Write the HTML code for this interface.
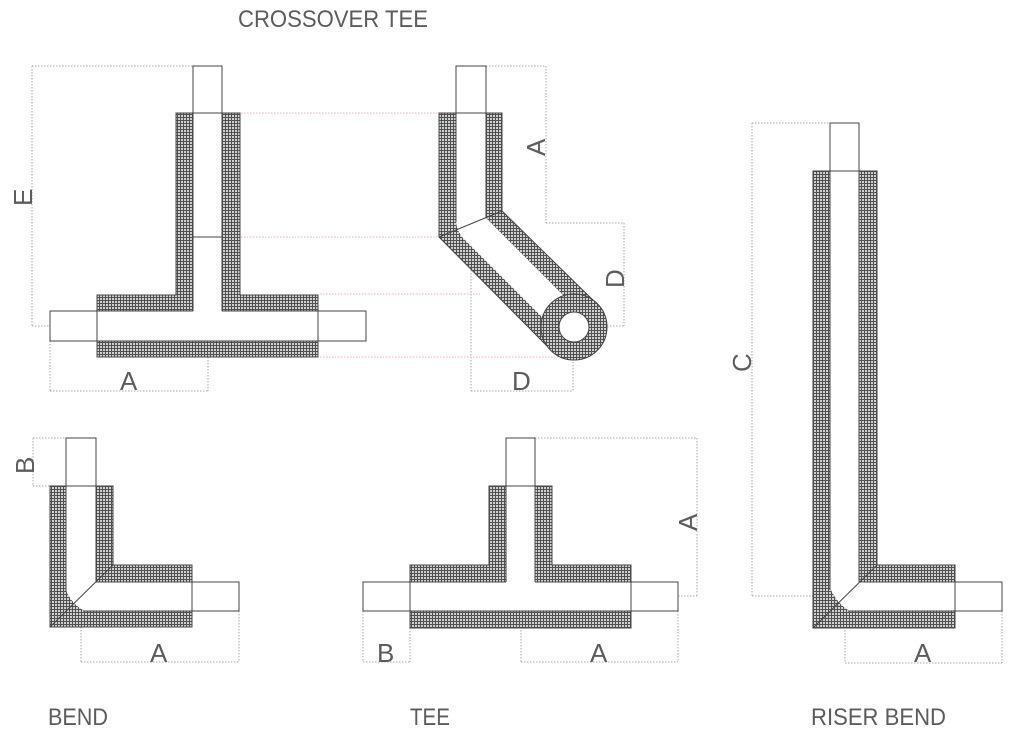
<!DOCTYPE html>
<html><head><meta charset="utf-8"><style>
html,body{margin:0;padding:0;background:#fff;}
svg{display:block;}
text{font-family:"Liberation Sans","DejaVu Sans",sans-serif;fill:#5c5c5c;}
</style></head><body>
<svg width="1024" height="733" viewBox="0 0 1024 733" xmlns="http://www.w3.org/2000/svg">
<defs>
<pattern id="h" width="3" height="3" patternUnits="userSpaceOnUse">
<rect width="3" height="3" fill="#d0d0d0"/>
<rect width="3" height="1" fill="#505050"/>
<rect width="1" height="3" fill="#505050"/>
</pattern>
</defs>
<g fill="none" stroke="#aaa" stroke-width="1" stroke-dasharray="1.5 1.5">
<line x1="32" y1="66" x2="193" y2="66"/><line x1="32" y1="66" x2="32" y2="326"/><line x1="32" y1="326" x2="366" y2="326"/>
<line x1="208" y1="66" x2="208" y2="391"/><line x1="50" y1="341" x2="50" y2="391"/><line x1="50" y1="391" x2="208" y2="391"/>
<line x1="486" y1="66" x2="546" y2="66"/><line x1="546" y1="66" x2="546" y2="223"/><line x1="546" y1="223" x2="624" y2="223"/>
<line x1="624" y1="223" x2="624" y2="326"/><line x1="574" y1="326" x2="624" y2="326"/>
<line x1="471" y1="66" x2="471" y2="391"/><line x1="573" y1="326" x2="573" y2="391"/><line x1="471" y1="391" x2="573" y2="391"/>
<line x1="471" y1="224" x2="574" y2="327"/>
<line x1="752" y1="123" x2="830" y2="123"/><line x1="752" y1="123" x2="752" y2="596"/><line x1="752" y1="596" x2="1002" y2="596"/>
<line x1="845" y1="123" x2="845" y2="663"/><line x1="1002" y1="611" x2="1002" y2="663"/><line x1="845" y1="663" x2="1002" y2="663"/>
<line x1="33" y1="438" x2="66" y2="438"/><line x1="33" y1="438" x2="33" y2="486"/><line x1="33" y1="486" x2="50" y2="486"/>
<line x1="81" y1="438" x2="81" y2="662"/><line x1="239" y1="611" x2="239" y2="662"/><line x1="81" y1="662" x2="239" y2="662"/>
<line x1="66" y1="596" x2="239" y2="596"/>
<line x1="535" y1="438" x2="697" y2="438"/><line x1="697" y1="438" x2="697" y2="596"/><line x1="363" y1="596" x2="697" y2="596"/>
<line x1="521" y1="438" x2="521" y2="662"/><line x1="363" y1="611" x2="363" y2="662"/><line x1="410" y1="628" x2="410" y2="662"/>
<line x1="678" y1="611" x2="678" y2="662"/><line x1="363" y1="662" x2="410" y2="662"/><line x1="521" y1="662" x2="678" y2="662"/>
</g>
<g stroke="#f2b0b0" stroke-width="1" stroke-dasharray="1.5 1.5">
<line x1="241" y1="113" x2="439" y2="113"/><line x1="241" y1="237" x2="439" y2="237"/>
<line x1="320" y1="294" x2="480" y2="294"/><line x1="320" y1="357" x2="560" y2="357"/>
</g>
<g stroke="#444" stroke-width="1">
<path d="M176 113H240V295H318V357H97V295H176Z" fill="url(#h)"/>
<path d="M193 113H222V311H193Z M97 311H318V341H97Z" fill="#fff" stroke="none"/>
<line x1="193" y1="113" x2="193" y2="311"/><line x1="222" y1="113" x2="222" y2="311"/>
<line x1="97" y1="311" x2="193" y2="311"/><line x1="222" y1="311" x2="318" y2="311"/><line x1="97" y1="341" x2="318" y2="341"/>
<line x1="193" y1="237" x2="222" y2="237"/>
<rect x="193" y="66" width="29" height="47" fill="#fff"/>
<rect x="50" y="311" width="47" height="30" fill="#fff"/><rect x="318" y="311" width="48" height="30" fill="#fff"/>
<path d="M439 113H502V211L597 304L551 350L439 237Z" fill="url(#h)"/>
<path d="M456 113H486V218L584 316L563 338L466 241Q456 232 456 220Z" fill="#fff" stroke="none"/>
<line x1="456" y1="113" x2="456" y2="222"/><line x1="486" y1="113" x2="486" y2="218"/>
<line x1="439" y1="237" x2="502" y2="211"/>
<circle cx="574" cy="327" r="33" fill="url(#h)"/>
<circle cx="574" cy="327" r="15" fill="#fff"/>
<rect x="456" y="66" width="30" height="47" fill="#fff"/>
<path d="M813 171H877V565H955V628H813Z" fill="url(#h)"/>
<path d="M830 171H859V582H955V611H850Q838 605 830 588Z" fill="#fff" stroke="none"/>
<line x1="830" y1="171" x2="830" y2="590"/><line x1="859" y1="171" x2="859" y2="582"/>
<line x1="859" y1="582" x2="955" y2="582"/><line x1="848" y1="611" x2="955" y2="611"/>
<line x1="813" y1="628" x2="877" y2="565"/>
<rect x="830" y="123" width="29" height="48" fill="#fff"/>
<rect x="955" y="582" width="47" height="29" fill="#fff"/>
<path d="M50 486H113V565H192V627H50Z" fill="url(#h)"/>
<path d="M66 486H96V582H192V611H85Q72 605 66 590Z" fill="#fff" stroke="none"/>
<line x1="66" y1="486" x2="66" y2="592"/><line x1="96" y1="486" x2="96" y2="582"/>
<line x1="96" y1="582" x2="192" y2="582"/><line x1="83" y1="611" x2="192" y2="611"/>
<line x1="50" y1="627" x2="113" y2="565"/>
<rect x="66" y="438" width="30" height="48" fill="#fff"/>
<rect x="192" y="582" width="47" height="29" fill="#fff"/>
<path d="M489 486H552V565H631V628H410V565H489Z" fill="url(#h)"/>
<path d="M506 486H535V582H506Z M410 582H631V611H410Z" fill="#fff" stroke="none"/>
<line x1="506" y1="486" x2="506" y2="582"/><line x1="535" y1="486" x2="535" y2="582"/>
<line x1="410" y1="582" x2="506" y2="582"/><line x1="535" y1="582" x2="631" y2="582"/><line x1="410" y1="611" x2="631" y2="611"/>
<rect x="506" y="438" width="29" height="48" fill="#fff"/>
<rect x="363" y="582" width="47" height="29" fill="#fff"/><rect x="631" y="582" width="47" height="29" fill="#fff"/>
</g>
<g font-size="24">
<text x="238" y="27" textLength="190" lengthAdjust="spacingAndGlyphs">CROSSOVER TEE</text>
<text x="48" y="725" textLength="60" lengthAdjust="spacingAndGlyphs">BEND</text>
<text x="410" y="725" textLength="40" lengthAdjust="spacingAndGlyphs">TEE</text>
<text x="811" y="725" textLength="135" lengthAdjust="spacingAndGlyphs">RISER BEND</text>
</g>
<g font-size="26">
<text x="120" y="390">A</text>
<text x="512" y="390">D</text>
<text x="150" y="662">A</text>
<text x="377" y="662">B</text>
<text x="590" y="662">A</text>
<text x="914" y="662">A</text>
<text transform="translate(32,206) rotate(-90)">E</text>
<text transform="translate(545,156) rotate(-90)">A</text>
<text transform="translate(624,288) rotate(-90)">D</text>
<text transform="translate(751,372) rotate(-90)">C</text>
<text transform="translate(34,474) rotate(-90)">B</text>
<text transform="translate(697,531) rotate(-90)">A</text>
</g>
</svg>
</body></html>
